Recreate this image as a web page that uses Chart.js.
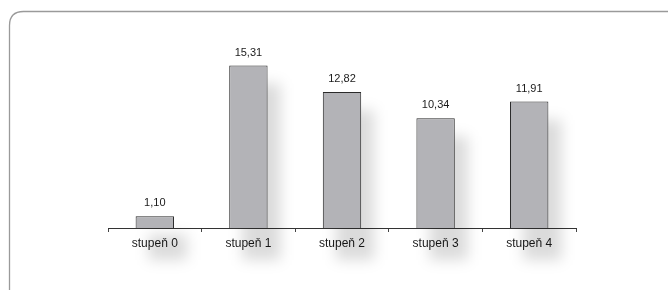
<!DOCTYPE html>
<html>
<head>
<meta charset="utf-8">
<script src="https://cdn.jsdelivr.net/npm/chart.js@4/dist/chart.umd.min.js"></script>
<style>
html,body{margin:0;padding:0;background:#fff;}
#wrap{width:668px;height:290px;}
</style>
</head>
<body>
<div id="wrap"><canvas id="c" width="668" height="290"></canvas></div>
<script>
const categories = ["stupeň 0", "stupeň 1", "stupeň 2", "stupeň 3", "stupeň 4"];
const values = [1.10, 15.31, 12.82, 10.34, 11.91];
const valueLabels = ["1,10", "15,31", "12,82", "10,34", "11,91"];

const frame = {
  id: 'frame',
  beforeDraw(chart) {
    const ctx = chart.ctx;
    ctx.save();
    ctx.fillStyle = '#fff';
    ctx.fillRect(0, 0, chart.width, chart.height);
    ctx.strokeStyle = '#9a9a9a';
    ctx.lineWidth = 1.3;
    const x = 9.5, y = 11.5, w = 700, h = 320, r = 14;
    ctx.beginPath();
    ctx.moveTo(x + r, y);
    ctx.lineTo(x + w - r, y);
    ctx.quadraticCurveTo(x + w, y, x + w, y + r);
    ctx.lineTo(x + w, y + h);
    ctx.lineTo(x, y + h);
    ctx.lineTo(x, y + r);
    ctx.quadraticCurveTo(x, y, x + r, y);
    ctx.stroke();
    ctx.restore();
  }
};

const shadow = {
  id: 'shadow',
  beforeDatasetsDraw(chart) {
    const ctx = chart.ctx;
    const meta = chart.getDatasetMeta(0);
    ctx.save();
    ctx.filter = 'blur(7px)';
    ctx.fillStyle = 'rgba(0,0,0,0.14)';
    meta.data.forEach((bar) => {
      const w = bar.width;
      const h = bar.base - bar.y;
      ctx.fillRect(bar.x - w / 2 + 13, bar.y + 18, w, h + 14);
    });
    ctx.restore();
  },
  afterDatasetsDraw(chart) {
    const ctx = chart.ctx;
    const meta = chart.getDatasetMeta(0);
    ctx.save();
    ctx.fillStyle = '#1a1a1a';
    ctx.font = '11px "Liberation Sans", Arial, sans-serif';
    ctx.textAlign = 'center';
    ctx.textBaseline = 'alphabetic';
    meta.data.forEach((bar, i) => {
      ctx.fillText(valueLabels[i], bar.x, bar.y - 10);
    });
    ctx.restore();
  }
};

new Chart(document.getElementById('c'), {
  type: 'bar',
  data: {
    labels: categories,
    datasets: [{
      data: values,
      backgroundColor: '#b3b3b7',
      borderColor: '#2a2a2a',
      borderWidth: 1,
      borderSkipped: 'bottom',
      categoryPercentage: 1,
      barPercentage: 0.41
    }]
  },
  options: {
    responsive: false,
    animation: false,
    devicePixelRatio: 1,
    layout: { padding: { left: 108, right: 92, top: 37, bottom: 0 } },
    plugins: { legend: { display: false }, tooltip: { enabled: false } },
    scales: {
      x: {
        afterFit(scale) { scale.height = 62; },
        grid: {
          offset: true,
          drawOnChartArea: false,
          drawTicks: true,
          tickLength: 4,
          color: '#444'
        },
        border: { display: true, color: '#333', width: 1 },
        ticks: {
          color: '#1a1a1a',
          padding: 4,
          font: { family: '"Liberation Sans", Arial, sans-serif', size: 12 }
        }
      },
      y: {
        display: false,
        min: 0,
        max: 18
      }
    }
  },
  plugins: [frame, shadow]
});
</script>
</body>
</html>
